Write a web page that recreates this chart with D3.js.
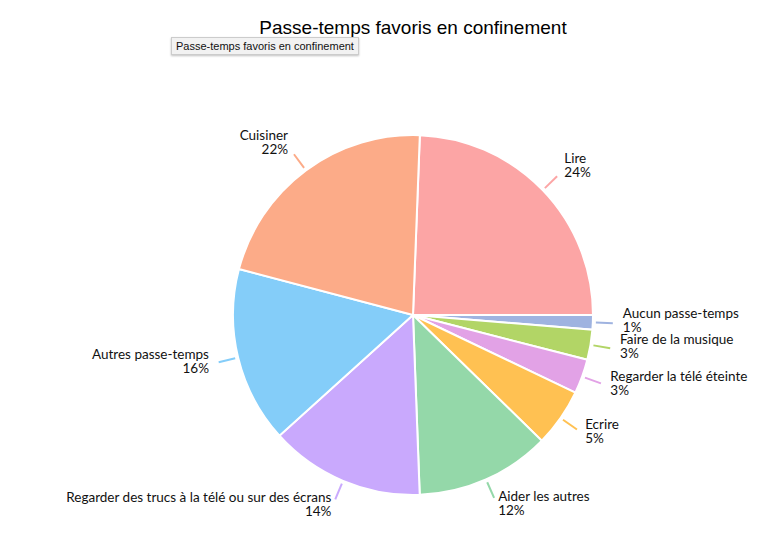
<!DOCTYPE html>
<html>
<head>
<meta charset="utf-8">
<script src="https://cdn.jsdelivr.net/npm/d3@7"></script>
<style>
  body { margin: 0; background: #fff; }
  .tip { position: absolute; left: 171px; top: 37px; padding: 2px 4px; font: 11px "Liberation Sans", Arial, sans-serif;
         background: #f2f2f2; border: 1px solid #ccc; box-shadow: 0 1px 2px rgba(0,0,0,0.25); color: #111; }
  .lbl { font-family: Lato, "Noto Sans", sans-serif; font-size: 13.5px; fill: #111; }
</style>
</head>
<body>
<svg id="chart"></svg>
<div class="tip">Passe-temps favoris en confinement</div>
<script>
const categories = ["Lire", "Aucun passe-temps", "Faire de la musique", "Regarder la télé éteinte", "Ecrire",
  "Aider les autres", "Regarder des trucs à la télé ou sur des écrans", "Autres passe-temps", "Cuisiner"];
const values = [24.4, 1.3, 2.7, 3.1, 5.2, 12.1, 13.9, 15.8, 21.5];
const pctLabels = ["24%", "1%", "3%", "3%", "5%", "12%", "14%", "16%", "22%"];
const colors = ["#fca5a5", "#9fb3e0", "#b2d566", "#e2a2e6", "#ffc152", "#94d8a9", "#c9a9fd", "#84cdf9", "#fcab88"];

const W = 779, H = 542, cx = 413, cy = 315, R = 180;
const svg = d3.select("#chart").attr("width", W).attr("height", H);

svg.append("text")
  .attr("x", 413).attr("y", 34)
  .attr("text-anchor", "middle")
  .style("font", "19px 'Liberation Sans', Arial, sans-serif")
  .text("Passe-temps favoris en confinement");

const data = categories.map((c, i) => ({ name: c, value: values[i], pct: pctLabels[i], color: colors[i] }));
const pie = d3.pie().value(d => d.value).sort(null).startAngle(0.038).endAngle(0.038 + 2 * Math.PI);
const arcs = pie(data);
const arc = d3.arc().innerRadius(0).outerRadius(R);

const g = svg.append("g").attr("transform", `translate(${cx},${cy})`);
g.selectAll("path.slice").data(arcs).join("path")
  .attr("class", "slice")
  .attr("d", arc)
  .attr("fill", d => d.data.color)
  .attr("stroke", "#fff")
  .attr("stroke-width", 2);

//Label lines and texts
const pt = (a, r) => [r * Math.sin(a), -r * Math.cos(a)];
arcs.forEach(d => {
  const a = (d.startAngle + d.endAngle) / 2;
  const p1 = pt(a, R + 3), p2 = pt(a, R + 20), p3 = pt(a, R + 30);
  const right = Math.sin(a) >= 0;
  g.append("line")
    .attr("x1", p1[0]).attr("y1", p1[1]).attr("x2", p2[0]).attr("y2", p2[1])
    .attr("stroke", d.data.color).attr("stroke-width", 2);
  const t = g.append("text").attr("class", "lbl")
    .attr("text-anchor", right ? "start" : "end")
    .attr("x", p3[0]).attr("y", p3[1] - 6);
  t.append("tspan").attr("x", p3[0]).attr("dy", 0).text(d.data.name);
  t.append("tspan").attr("x", p3[0]).attr("dy", 14).text(d.data.pct);
});
</script>
</body>
</html>
